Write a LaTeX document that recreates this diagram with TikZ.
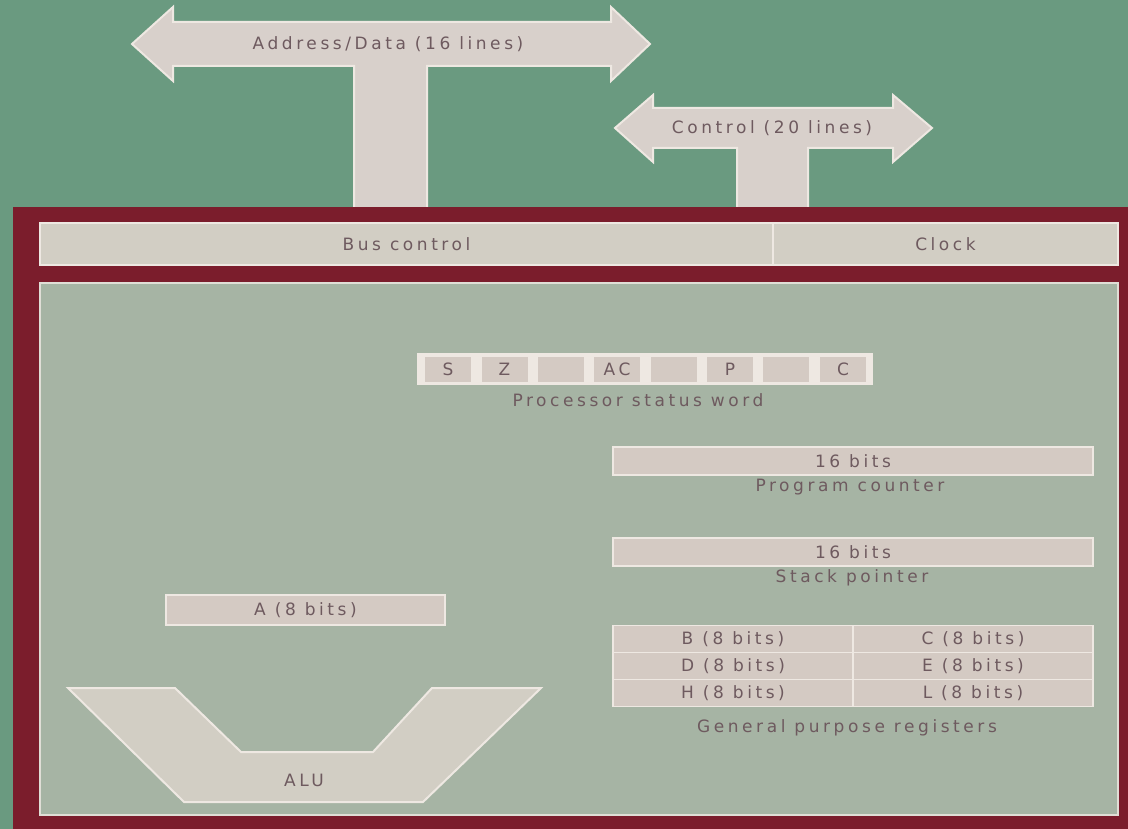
\documentclass[tikz,border=0pt]{standalone}
\usepackage{fontspec}
\setmainfont{DejaVu Sans}[LetterSpace=21]
\definecolor{bg}{HTML}{6A9A80}
\definecolor{maroon}{HTML}{7B1D2C}
\definecolor{panelf}{HTML}{A6B4A4}
\definecolor{barf}{HTML}{D2CEC4}
\definecolor{boxf}{HTML}{D4CAC3}
\definecolor{edge}{HTML}{EEE8E2}
\definecolor{arrf}{HTML}{D8D0CB}
\definecolor{txt}{HTML}{6E5A5F}
\begin{document}
\begin{tikzpicture}[x=1pt,y=-1pt,
  lbl/.style={text=txt, font=\fontsize{17}{19}\selectfont, inner sep=0pt},
  bar/.style={draw=edge, line width=1.8pt, fill=barf, inner sep=0pt, text=txt, font=\fontsize{17}{19}\selectfont},
  reg/.style={draw=edge, line width=1.8pt, fill=boxf, inner sep=0pt, text=txt, font=\fontsize{17}{19}\selectfont},
  cell/.style={fill=boxf, inner sep=0pt, minimum width=46pt, minimum height=25pt, text=txt, font=\fontsize{17}{19}\selectfont},
  busarrow/.style={draw=edge, line width=2pt, fill=arrf, line join=miter}
]
\useasboundingbox (0,0) rectangle (1128,829);
\fill[bg] (0,0) rectangle (1128,829);

% Address/Data bus arrow
\draw[busarrow] (132,44) -- (173,7) -- (173,22) -- (611,22) -- (611,7) -- (650,44)
  -- (611,81) -- (611,66) -- (427,66) -- (427,210) -- (354,210) -- (354,66)
  -- (173,66) -- (173,81) -- cycle;
\node[lbl] (addr) at (388,44) {Address/Data (16 lines)};

% Control bus arrow
\draw[busarrow] (615,128) -- (653,95) -- (653,108) -- (893,108) -- (893,95) -- (932,128)
  -- (893,162) -- (893,148) -- (808,148) -- (808,210) -- (737,210) -- (737,148)
  -- (653,148) -- (653,162) -- cycle;
\node[lbl] (ctrl) at (772,128) {Control (20 lines)};

% Processor frame
\fill[maroon] (13,207) rectangle (1128,829);
\node[bar, minimum width=733pt, minimum height=42pt] (bus) at (406.5,244) {Bus control};
\node[bar, minimum width=345pt, minimum height=42pt] (clk) at (945.5,244) {Clock};
\node[draw=edge!80!panelf, line width=1.5pt, fill=panelf, inner sep=0pt,
      minimum width=1078pt, minimum height=532pt] (pan) at (579,549) {};

% Processor status word
\node[fill=edge, inner sep=0pt, minimum width=456pt, minimum height=32pt] (psw) at (645,369) {};
\node[cell] (fs) at (448,369) {S};
\node[cell] (fz) at (504.5,369) {Z};
\node[cell] (f2) at (561,369) {};
\node[cell] (fac) at (617,369) {AC};
\node[cell] (f4) at (673.5,369) {};
\node[cell] (fp) at (730,369) {P};
\node[cell] (f6) at (786,369) {};
\node[cell] (fc) at (843,369) {C};
\node[lbl] (pswl) at (638,400) {Processor status word};

% Program counter and stack pointer
\node[reg, minimum width=480pt, minimum height=28pt] (pc) at (853,461) {16 bits};
\node[lbl] (pcl) at (850,487) {Program counter};
\node[reg, minimum width=480pt, minimum height=28pt] (sp) at (853,552) {16 bits};
\node[lbl] (spl) at (852,578) {Stack pointer};

% General purpose registers
\node[reg, minimum width=240pt, minimum height=27pt] (rb) at (733,639) {B (8 bits)};
\node[reg, minimum width=240pt, minimum height=27pt] (rc) at (973,639) {C (8 bits)};
\node[reg, minimum width=240pt, minimum height=27pt] (rd) at (733,666) {D (8 bits)};
\node[reg, minimum width=240pt, minimum height=27pt] (re) at (973,666) {E (8 bits)};
\node[reg, minimum width=240pt, minimum height=27pt] (rh) at (733,693) {H (8 bits)};
\node[reg, minimum width=240pt, minimum height=27pt] (rl) at (973,693) {L (8 bits)};
\node[lbl] (gprl) at (847,728) {General purpose registers};

% Accumulator
\node[reg, minimum width=279pt, minimum height=30pt] (acc) at (305.5,610) {A (8 bits)};

% ALU
\draw[draw=edge, line width=2pt, fill=barf, line join=miter]
  (68,688) -- (175,688) -- (241,752) -- (373,752) -- (432,688) -- (541,688)
  -- (423,802) -- (184,802) -- cycle;
\node[lbl] (alu) at (304,780) {ALU};
\end{tikzpicture}
\end{document}
